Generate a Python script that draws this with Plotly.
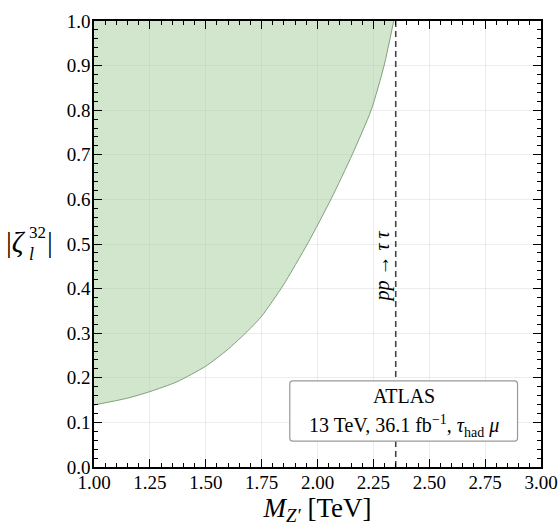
import plotly.graph_objects as go

# Exclusion boundary: Z' mass [TeV] vs |zeta_l^32|
mass = [1.00, 1.147, 1.25, 1.371, 1.50, 1.595, 1.684, 1.75, 1.846, 1.957, 2.062, 2.155, 2.240, 2.298, 2.341]
zeta = [0.139, 0.154, 0.169, 0.191, 0.226, 0.262, 0.303, 0.338, 0.407, 0.502, 0.602, 0.700, 0.800, 0.900, 1.000]

# ATLAS pp -> tau tau mass bound
atlas_bound = 2.35

x_ticks = [1.00, 1.25, 1.50, 1.75, 2.00, 2.25, 2.50, 2.75, 3.00]
y_ticks = [0.0, 0.1, 0.2, 0.3, 0.4, 0.5, 0.6, 0.7, 0.8, 0.9, 1.0]

FONT = "Liberation Serif, DejaVu Serif, serif"

fig = go.Figure()

# upper edge of the excluded region
fig.add_trace(go.Scatter(
    x=[mass[0], mass[-1]], y=[1.0, 1.0], mode="lines",
    line=dict(width=0, color="rgba(0,0,0,0)"), hoverinfo="skip", showlegend=False,
))
# boundary curve, filled up to the top edge
fig.add_trace(go.Scatter(
    x=mass, y=zeta, mode="lines", fill="tonexty",
    fillcolor="rgba(164,205,156,0.5)",
    line=dict(color="rgba(120,150,115,0.9)", width=1, shape="spline", smoothing=0.6),
    hoverinfo="skip", showlegend=False,
))

fig.add_trace(go.Scatter(
    x=[atlas_bound, atlas_bound], y=[0, 1],
    mode="lines", line=dict(color="#444444", width=1.6, dash="6px,4px"),
    hoverinfo="skip", showlegend=False,
))

# invisible trace carrying the mirrored top/right axes
fig.add_trace(go.Scatter(x=[1.0, 3.0], y=[0.0, 1.0], xaxis="x2", yaxis="y2", mode="markers",
                         marker=dict(opacity=0), hoverinfo="skip", showlegend=False))

axis_common = dict(
    showline=True, linecolor="black", linewidth=1.5,
    ticks="inside", ticklen=8, tickwidth=1.3, tickcolor="black",
    zeroline=False, automargin=False,
    tickfont=dict(family=FONT, size=19, color="black"),
)
x_minor = dict(ticks="inside", dtick=0.05, ticklen=4, tickwidth=1, tickcolor="black", showgrid=False)
y_minor = dict(ticks="inside", dtick=0.02, ticklen=4, tickwidth=1, tickcolor="black", showgrid=False)

fig.update_layout(
    xaxis=dict(
        range=[1.0, 3.0], tickvals=x_ticks, ticktext=[f"{v:.2f}" for v in x_ticks],
        minor=x_minor, showgrid=True, gridcolor="rgba(0,0,0,0.07)",
        ticklabelstandoff=-3,
        title=dict(text="<i>M</i><sub><i>Z′</i></sub> [TeV]",
                   font=dict(family=FONT, size=27, color="black"), standoff=0),
        **axis_common,
    ),
    yaxis=dict(
        range=[0.0, 1.0], tickvals=y_ticks, ticktext=[f"{v:.1f}" for v in y_ticks],
        minor=y_minor, showgrid=True, gridcolor="rgba(0,0,0,0.07)",
        ticklabelstandoff=-2,
        **axis_common,
    ),
    xaxis2=dict(range=[1.0, 3.0], overlaying="x", side="top", tickvals=x_ticks,
                showticklabels=False, minor=x_minor, showgrid=False, **axis_common),
    yaxis2=dict(range=[0.0, 1.0], overlaying="y", side="right", tickvals=y_ticks,
                showticklabels=False, minor=y_minor, showgrid=False, **axis_common),
)

# y-axis label built from pieces so the sub/superscript stack
fig.add_annotation(xref="paper", yref="paper", x=-0.147, y=0.505, xanchor="right", yanchor="middle",
                   text="|<i>ζ</i>", showarrow=False, font=dict(family=FONT, size=29, color="black"))
fig.add_annotation(xref="paper", yref="paper", x=-0.150, y=0.526, xanchor="left", yanchor="middle",
                   text="32", showarrow=False, font=dict(family=FONT, size=17, color="black"))
fig.add_annotation(xref="paper", yref="paper", x=-0.150, y=0.477, xanchor="left", yanchor="middle",
                   text="<i>l</i>", showarrow=False, font=dict(family=FONT, size=18, color="black"))
fig.add_annotation(xref="paper", yref="paper", x=-0.110, y=0.505, xanchor="left", yanchor="middle",
                   text="|", showarrow=False, font=dict(family=FONT, size=29, color="black"))

# rotated process label next to the bound
fig.add_annotation(x=2.29, y=0.45, text="<i>pp</i> → <i>τ τ</i>", textangle=-90, showarrow=False,
                   font=dict(family=FONT, size=20, color="black"))

# rounded info box
x0, x1, y0, y1 = 1.876, 2.895, 0.058, 0.193
rx, ry = 0.014, 0.007
path = (f"M {x0+rx},{y0} L {x1-rx},{y0} Q {x1},{y0} {x1},{y0+ry} L {x1},{y1-ry} Q {x1},{y1} {x1-rx},{y1} "
        f"L {x0+rx},{y1} Q {x0},{y1} {x0},{y1-ry} L {x0},{y0+ry} Q {x0},{y0} {x0+rx},{y0} Z")
fig.add_shape(type="path", path=path, xref="x", yref="y", fillcolor="white",
              line=dict(color="#999999", width=1.2), layer="above")
fig.add_annotation(x=2.386, y=0.160, text="ATLAS", showarrow=False,
                   font=dict(family=FONT, size=20, color="black"))
fig.add_annotation(x=2.386, y=0.092, showarrow=False,
                   text="13 TeV, 36.1 fb<sup>−1</sup>, <i>τ</i><sub>had</sub> <i>μ</i>",
                   font=dict(family=FONT, size=20, color="black"))

fig.update_layout(
    width=559, height=528,
    margin=dict(l=93.5, r=18, t=20.7, b=61, autoexpand=False),
    plot_bgcolor="white", paper_bgcolor="white",
    font=dict(family=FONT, color="black"),
    showlegend=False,
)

fig.write_html("out.html")
